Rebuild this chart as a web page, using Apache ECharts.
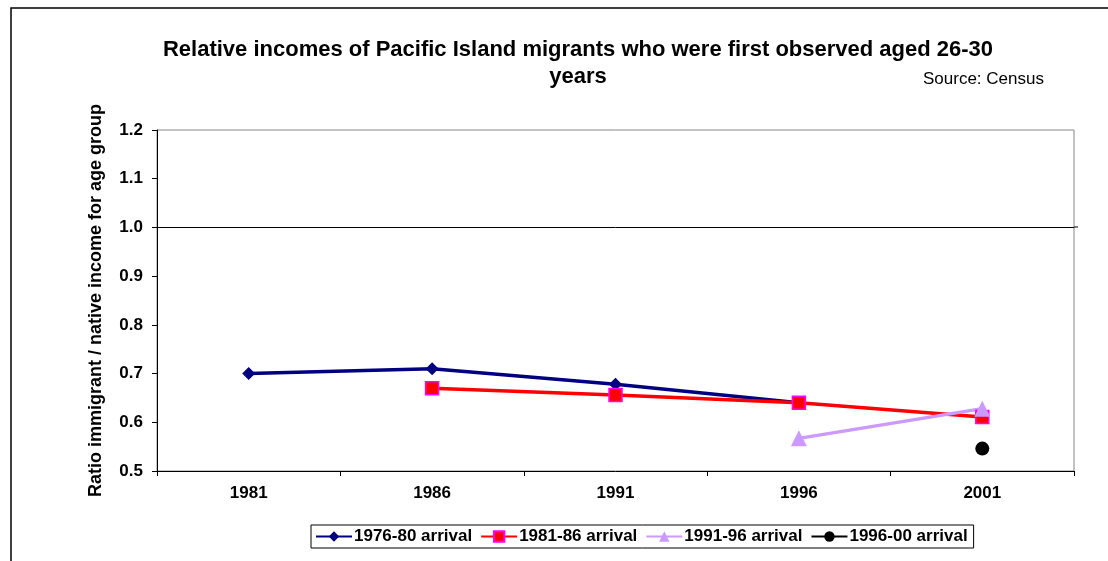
<!DOCTYPE html>
<html>
<head>
<meta charset="utf-8">
<script src="https://cdn.jsdelivr.net/npm/echarts@6/dist/echarts.min.js"></script>
<style>
html,body{margin:0;padding:0;background:#fff;}
#chart{width:1108px;height:561px;}
</style>
</head>
<body>
<div id="chart"></div>
<script>
const categories = ['1981', '1986', '1991', '1996', '2001'];
const arrivals1976_80 = [0.70, 0.71, 0.678, 0.64, null];
const arrivals1981_86 = [null, 0.67, 0.656, 0.64, 0.611];
const arrivals1991_96 = [null, null, null, 0.567, 0.628];
const arrivals1996_00 = [null, null, null, null, 0.546];
const seriesNames = ['1976-80 arrival', '1981-86 arrival', '1991-96 arrival', '1996-00 arrival'];

const FONT = '"Liberation Sans", Arial, sans-serif';
const chart = echarts.init(document.getElementById('chart'));
chart.setOption({
  animation: false,
  backgroundColor: '#fff',
  title: {
    text: 'Relative incomes of Pacific Island migrants who were first observed aged 26-30\nyears',
    left: 573,
    top: 31,
    textAlign: 'center',
    textStyle: { fontFamily: FONT, fontSize: 22, fontWeight: 'bold', color: '#000', lineHeight: 27 }
  },
  graphic: [
    { type: 'rect', shape: { x: 11, y: 8, width: 1300, height: 800 }, style: { fill: 'none', stroke: '#000', lineWidth: 1.5 }, silent: true },
    { type: 'text', left: 923, top: 71, style: { text: 'Source: Census', font: '17px ' + FONT, fill: '#000' } },
    { type: 'line', shape: { x1: 1074, y1: 227, x2: 1078, y2: 227 }, style: { stroke: '#000', lineWidth: 1 } }
  ],
  legend: {
    data: seriesNames,
    left: 311,
    top: 525,
    orient: 'horizontal',
    borderColor: '#000',
    borderWidth: 1,
    padding: [3, 6, 3, 4],
    itemGap: 8,
    itemWidth: 36,
    itemHeight: 13,
    textStyle: { fontFamily: FONT, fontSize: 17, fontWeight: 'bold', color: '#000', padding: [0, 0, 0, -3] }
  },
  grid: {
    left: 157, right: 34, top: 130, bottom: 90,
    show: true, borderColor: '#888', borderWidth: 1, backgroundColor: 'transparent'
  },
  xAxis: {
    type: 'category',
    data: categories,
    boundaryGap: true,
    axisLine: { lineStyle: { color: '#000', width: 1 } },
    axisTick: { show: true, interval: 0, length: 5, inside: false, lineStyle: { color: '#000' } },
    axisLabel: { fontFamily: FONT, fontSize: 17, fontWeight: 'bold', color: '#000', margin: 14 },
    splitLine: { show: false }
  },
  yAxis: {
    type: 'value',
    min: 0.5,
    max: 1.2,
    interval: 0.1,
    name: 'Ratio immigrant / native income for age group',
    nameLocation: 'middle',
    nameRotate: 90,
    nameGap: 52,
    nameTextStyle: { fontFamily: FONT, fontSize: 18, fontWeight: 'bold', color: '#000' },
    axisLine: { show: true, lineStyle: { color: '#000', width: 1 } },
    axisTick: { show: true, length: 5, lineStyle: { color: '#000' } },
    axisLabel: { fontFamily: FONT, fontSize: 17, fontWeight: 'bold', color: '#000', margin: 14, formatter: v => v.toFixed(1) },
    splitLine: { show: true, lineStyle: { color: ['transparent', 'transparent', 'transparent', 'transparent', 'transparent', '#000', 'transparent', 'transparent'], width: 1 } }
  },
  series: [
    {
      name: seriesNames[0], type: 'line', data: arrivals1976_80,
      symbol: 'diamond', symbolSize: 13, showAllSymbol: true,
      lineStyle: { color: '#000080', width: 3.5 },
      itemStyle: { color: '#000080' }
    },
    {
      name: seriesNames[1], type: 'line', data: arrivals1981_86,
      symbol: 'rect', symbolSize: 13,
      lineStyle: { color: '#FF0000', width: 3.5 },
      itemStyle: { color: '#FF0000', borderColor: '#FF00FF', borderWidth: 1.5 }
    },
    {
      name: seriesNames[2], type: 'line', data: arrivals1991_96,
      symbol: 'triangle', symbolSize: 16,
      lineStyle: { color: '#CC99FF', width: 3.5 },
      itemStyle: { color: '#CC99FF' }
    },
    {
      name: seriesNames[3], type: 'line', data: arrivals1996_00,
      symbol: 'circle', symbolSize: 14,
      lineStyle: { color: '#000', width: 1.5 },
      itemStyle: { color: '#000' }
    }
  ]
});
</script>
</body>
</html>
